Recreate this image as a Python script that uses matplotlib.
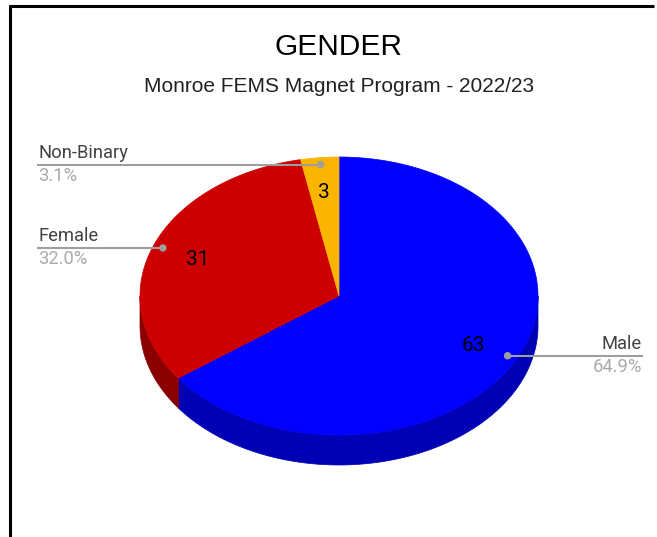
import matplotlib.pyplot as plt
import numpy as np
from matplotlib.patches import Polygon, Circle

categories = ["Male", "Female", "Non-Binary"]
counts = [63, 31, 3]
top_colors = ["#0000ff", "#cc0000", "#f9b500"]
side_colors = ["#0000b4", "#8a0000", "#b08000"]

title = "GENDER"
subtitle = "Monroe FEMS Magnet Program - 2022/23"

# pie geometry in pixel coords (y down)
cx, cy = 339, 296
rx, ry = 199, 139
depth = 30


def pt(theta, r=1.0, dz=0):
    # theta in degrees, clockwise from 12 o'clock
    t = np.radians(theta)
    return cx + r * rx * np.sin(t), cy - r * ry * np.cos(t) + dz


fig = plt.figure(figsize=(6.57, 5.37), dpi=100)
ax = fig.add_axes([0, 0, 1, 1])
ax.set_xlim(0, 657)
ax.set_ylim(537, 0)
ax.axis("off")

total = sum(counts)
fracs = [c / total for c in counts]
starts = np.cumsum([0] + fracs[:-1]) * 360
ends = np.cumsum(fracs) * 360

# side walls (front half only: 90..270 deg)
for s, e, col in zip(starts, ends, side_colors):
    a, b = max(s, 90), min(e, 270)
    if b <= a:
        continue
    th = np.linspace(a, b, 100)
    top = [pt(t) for t in th]
    bot = [pt(t, dz=depth) for t in th[::-1]]
    ax.add_patch(Polygon(top + bot, closed=True, facecolor=col,
                         edgecolor=col, lw=0.5, zorder=1))

# top faces
for s, e, col in zip(starts, ends, top_colors):
    th = np.linspace(s, e, 200)
    verts = [(cx, cy)] + [pt(t) for t in th]
    ax.add_patch(Polygon(verts, closed=True, facecolor=col,
                         edgecolor=col, lw=0.5, zorder=2))

# value labels and leaders
for i, (s, e) in enumerate(zip(starts, ends)):
    mid = (s + e) / 2
    vx, vy = pt(mid, 0.76)
    ax.text(vx, vy + 2, str(counts[i]), ha="center", va="center",
            fontsize=15, color="black", family="Roboto", zorder=4)
    dx, dy = pt(mid, 0.95)
    ax.add_patch(Circle((dx, dy), 3, color="#9e9e9e", zorder=5))
    pct = f"{fracs[i] * 100:.1f}%"
    if dx > cx:
        x0, x1, tx, ha = dx, 642, 642, "right"
    else:
        x0, x1, tx, ha = 38, dx, 38, "left"
    ax.plot([x0, x1], [dy, dy], color="#9e9e9e", lw=1.5, zorder=5)
    ax.text(tx, dy - 3, categories[i], ha=ha, va="bottom", fontsize=13.2,
            color="#424242", family="Roboto")
    ax.text(tx, dy + 2, pct, ha=ha, va="top", fontsize=13.2,
            color="#aaaaaa", family="Roboto")

ax.text(339, 47, title, ha="center", va="center", fontsize=21.5,
        family="Liberation Sans", color="black")
ax.text(339, 86, subtitle, ha="center", va="center", fontsize=15,
        family="Liberation Sans", color="#222222")

# frame lines
ax.plot([9, 654], [5.5, 5.5], color="black", lw=2.2, solid_capstyle="butt")
ax.plot([10, 10], [5, 537], color="black", lw=2.2, solid_capstyle="butt")

fig.savefig("out.png", dpi=100)
